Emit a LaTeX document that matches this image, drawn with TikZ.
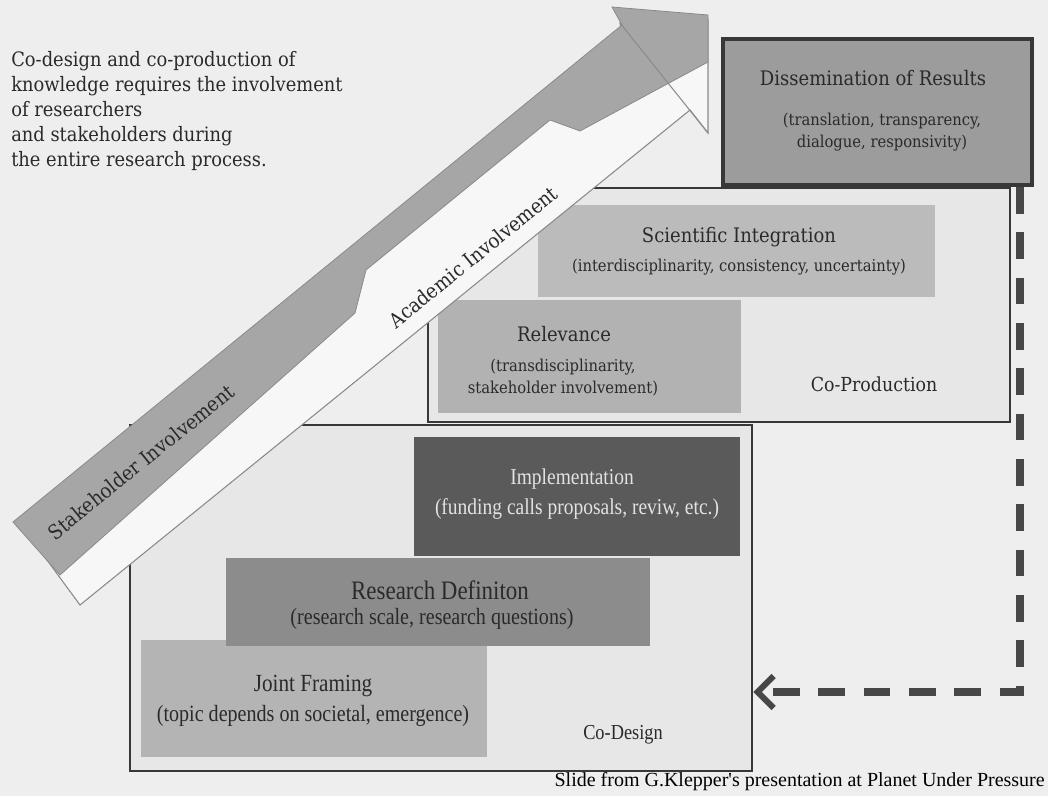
\documentclass[tikz,border=0pt]{standalone}
\usepackage{fontspec}
\newfontfamily\cent[FakeStretch=0.9]{DejaVu Serif}
\newfontfamily\timesc[FakeStretch=0.86]{Liberation Serif}
\newfontfamily\timesn{Liberation Serif}
\usetikzlibrary{arrows.meta,fit,calc}
\definecolor{bg}{HTML}{EEEEEE}
\definecolor{boxfill}{HTML}{E7E7E7}
\definecolor{boxline}{HTML}{383838}
\definecolor{ink}{HTML}{2A2A2A}
\definecolor{lightink}{HTML}{E2E2E2}
\definecolor{arrowgray}{HTML}{A6A6A6}
\definecolor{arrowline}{HTML}{8A8A8A}
\definecolor{dissfill}{HTML}{9C9C9C}
\definecolor{scifill}{HTML}{BBBBBB}
\definecolor{relfill}{HTML}{B2B2B2}
\definecolor{implfill}{HTML}{5A5A5A}
\definecolor{rdfill}{HTML}{8C8C8C}
\definecolor{jffill}{HTML}{B4B4B4}
\definecolor{dashcol}{HTML}{474747}
\tikzset{
  box/.style={draw=boxline, line width=2.2pt, fill=boxfill, inner sep=0pt},
  dissbox/.style={draw=boxline, line width=3pt, fill=dissfill, inner sep=0pt},
  patch/.style={draw=none, inner sep=0pt},
  lmtitle/.style={font=\cent\fontsize{15}{18}\selectfont, text=ink, align=center, inner sep=0pt},
  lmsub/.style={font=\cent\fontsize{12.3}{16.5}\selectfont, text=ink, align=center, inner sep=0pt},
  tctitle/.style={font=\timesc\fontsize{17}{20}\selectfont, text=ink, align=center, inner sep=0pt},
  tcsub/.style={font=\timesc\fontsize{17.5}{20}\selectfont, text=ink, align=center, inner sep=0pt},
  involve/.style={font=\cent\fontsize{15.2}{18}\selectfont, text=ink, rotate=39, inner sep=0pt},
  whitearrow/.style={fill=white!97!black, draw=arrowline, line width=0.8pt, line join=miter},
  grayarrow/.style={fill=arrowgray, draw=arrowline, line width=0.6pt, line join=miter},
  dashconn/.style={draw=dashcol, line width=6pt, dash pattern=on 20pt off 14pt,
    -{Straight Barb[length=12pt,width=24pt,line width=4.5pt]}}
}
\begin{document}
\begin{tikzpicture}[x=0.75pt,y=-0.75pt]
\useasboundingbox (0,0) rectangle (1048,796);
\fill[bg] (0,0) rectangle (1048,796);

% intro text
\node[font=\cent\fontsize{14.9}{18.8}\selectfont, text=ink, align=left, anchor=north west, inner sep=0pt] (intro) at (11,51)
  {Co-design and co-production of\\knowledge requires the involvement\\of researchers\\and stakeholders during\\the entire research process.};

% Co-Design box
\node[box, fit={(130,425) (752,771)}] (codesign) {};
\node[patch, fill=jffill, fit={(141,640) (487,757)}] (jf) {};
\node[patch, fill=rdfill, fit={(226,558) (650,646)}] (rd) {};
\node[patch, fill=implfill, fit={(414,437) (740,556)}] (impl) {};
\node[tctitle, text=lightink] (implT) at (572,479) {Implementation};
\node[tcsub, font=\timesc\fontsize{17}{20}\selectfont, text=lightink] (implS) at (577,509) {(funding calls proposals, reviw, etc.)};
\node[tctitle, font=\timesc\fontsize{20}{22}\selectfont] (rdT) at (440,590) {Research Definiton};
\node[tcsub] (rdS) at (432,619) {(research scale, research questions)};
\node[tctitle, font=\timesc\fontsize{18.5}{22}\selectfont] (jfT) at (313,686) {Joint Framing};
\node[tcsub] (jfS) at (313,716) {(topic depends on societal, emergence)};
\node[tctitle, font=\timesc\fontsize{16}{20}\selectfont] (cdT) at (623,735) {Co-Design};

% Co-Production box
\node[box, fit={(428,188) (1010,422)}] (coprod) {};
\node[patch, fill=scifill, fit={(538,205) (935,297)}] (sci) {};
\node[patch, fill=relfill, fit={(438,300) (741,413)}] (rel) {};
\node[lmtitle] (sciT) at (739,237) {Scientific Integration};
\node[lmsub] (sciS) at (739,267) {(interdisciplinarity, consistency, uncertainty)};
\node[lmtitle] (relT) at (564,334) {Relevance};
\node[lmsub] (relS) at (563,378) {(transdisciplinarity,\\stakeholder involvement)};
\node[lmtitle, font=\cent\fontsize{14.5}{18}\selectfont] (cpT) at (874,384) {Co-Production};

% Dissemination box
\node[dissbox, fit={(723,39) (1032,185)}] (diss) {};
\node[lmtitle] (dissT) at (873,78) {Dissemination of Results};
\node[lmsub] (dissS) at (882,132) {(translation, transparency,\\dialogue, responsivity)};

% arrows (academic = white, stakeholder = gray)
\draw[whitearrow] (25,530) -- (80,605) -- (690,110) -- (708,133) -- (708,20) -- (620,23) -- (622,35) -- cycle;
\draw[grayarrow] (13,522) -- (60,575) -- (355,313) -- (366,270) -- (550,120) -- (580,131)
  -- (708,62) -- (708,15) -- (612,7) -- (622,25) -- cycle;
\draw[arrowline, line width=0.8pt] (620,23) -- (708,133);
\node[involve] (acad) at (473,257) {Academic Involvement};
\node[involve] (stake) at (141,462) {Stakeholder Involvement};

% dashed feedback connector
\coordinate (dx) at (1020,0);
\coordinate (dy) at (0,692);
\draw[dashconn] (diss.south -| dx) |- (codesign.east |- dy);

% caption
\node[font=\timesn\fontsize{15}{17}\selectfont, text=black, anchor=base east, inner sep=0pt] (cap) at (1045,786)
  {Slide from G.Klepper's presentation at Planet Under Pressure};
\end{tikzpicture}
\end{document}
